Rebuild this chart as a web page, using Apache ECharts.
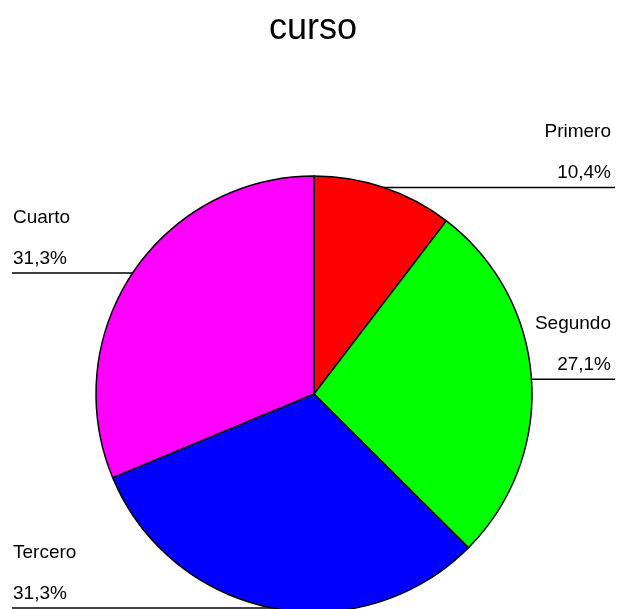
<!DOCTYPE html>
<html>
<head>
<meta charset="utf-8">
<script src="https://cdn.jsdelivr.net/npm/echarts@6/dist/echarts.min.js"></script>
<style>
  html, body { margin: 0; padding: 0; background: #fff; }
  #chart { width: 618px; height: 609px; }
</style>
</head>
<body>
<div id="chart"></div>
<script>
// slice names and percentages as shown in the picture
const categories = ['Primero', 'Segundo', 'Tercero', 'Cuarto'];
const percents = [10.4, 27.1, 31.3, 31.3];
const colors = ['#ff0000', '#00ff00', '#0000ff', '#ff00ff'];

const font = 'Arial, "Liberation Sans", sans-serif';

let data = [];
for (let i = 0; i < categories.length; i++) {
    data.push({
        name: categories[i],
        value: percents[i],
        itemStyle: { color: colors[i] }
    });
}

const chart = echarts.init(document.getElementById('chart'), null, { renderer: 'canvas' });

const option = {
    backgroundColor: '#ffffff',
    animation: false,
    title: {
        text: 'curso',
        left: 264,
        top: 6,
        textStyle: { fontFamily: font, fontSize: 36, fontWeight: 'normal', color: '#000' }
    },
    series: [{
        type: 'pie',
        center: [314, 394],
        radius: 218,
        startAngle: 90,
        clockwise: true,
        data: data,
        itemStyle: { borderColor: '#000', borderWidth: 1.5 },
        emphasis: { disabled: true },
        label: {
            show: true,
            formatter: function (p) {
                return p.name + '\n' + p.value.toFixed(1).replace('.', ',') + '%';
            },
            fontFamily: font,
            fontSize: 19,
            lineHeight: 41,
            overflow: 'none',
            color: '#000'
        },
        labelLine: {
            show: true,
            length: 0,
            length2: 10,
            smooth: false,
            lineStyle: { color: '#000', width: 1.5 }
        },
        labelLayout: function (params) {
            // line goes flat from the slice edge to the side of the chart,
            // text sits above it against that side
            const pts = params.labelLinePoints;
            const start = pts[0];
            const isLeft = pts[2][0] < start[0];
            const edgeX = isLeft ? 12 : 615;
            return {
                x: isLeft ? 13 : 611,
                y: start[1] + 6,
                align: isLeft ? 'left' : 'right',
                verticalAlign: 'bottom',
                labelLinePoints: [start, start, [edgeX, start[1]]]
            };
        }
    }]
};

chart.setOption(option);
</script>
</body>
</html>
